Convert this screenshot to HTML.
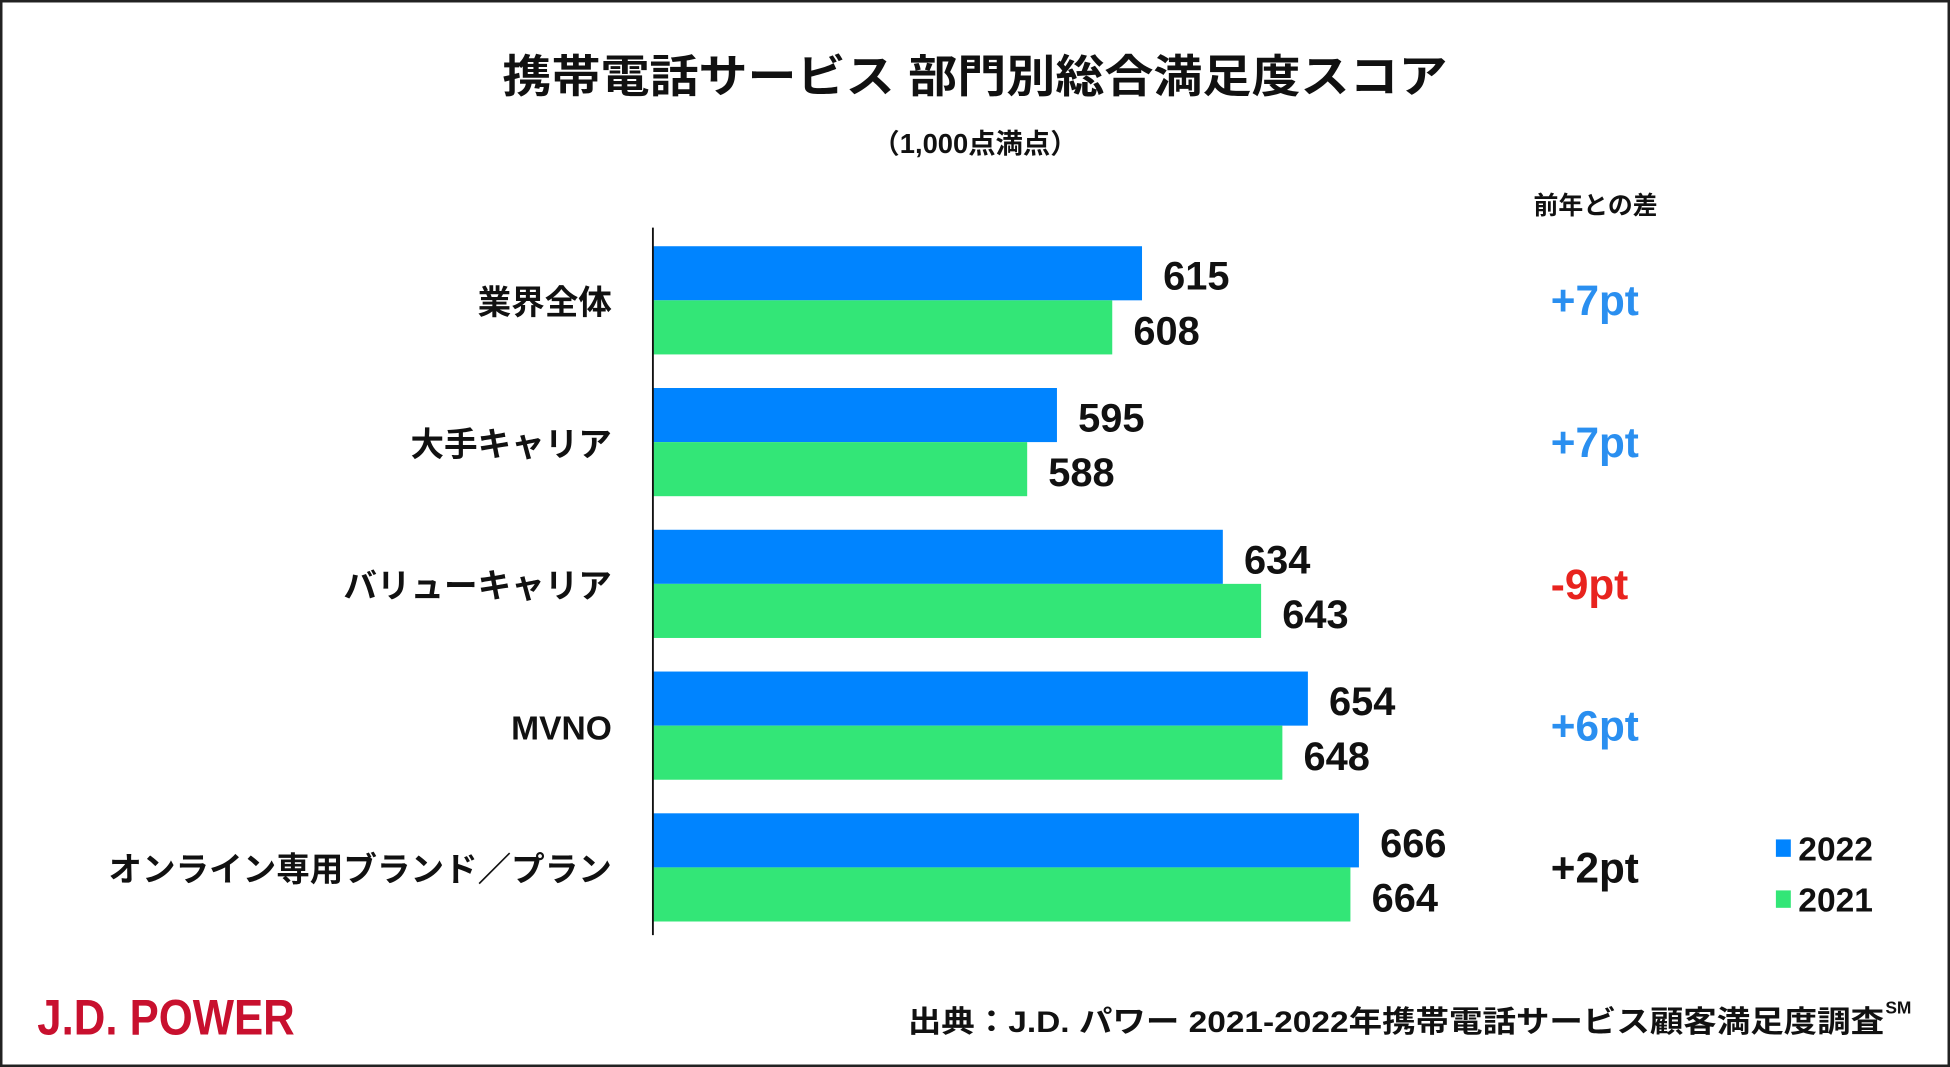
<!DOCTYPE html>
<html><head><meta charset="utf-8"><style>
html,body{margin:0;padding:0;background:#fff;}
svg{display:block;}
text{font-family:"Liberation Sans","Noto Sans CJK JP",sans-serif;font-weight:bold;}
</style></head><body>
<svg id="chart" width="1950" height="1067" viewBox="0 0 1568 858" preserveAspectRatio="none" xmlns="http://www.w3.org/2000/svg">
<rect x="1" y="1" width="1566" height="856" fill="#fff" stroke="#222" stroke-width="2"/>
<text x="784" y="74" text-anchor="middle" font-size="36" fill="#111" font-family="Noto Sans CJK JP, sans-serif" textLength="760" lengthAdjust="spacingAndGlyphs">携帯電話サービス 部門別総合満足度スコア</text>
<text x="784" y="123" text-anchor="middle" font-size="22" fill="#111">（1,000点満点）</text>
<text x="1283" y="172" text-anchor="middle" font-size="20" fill="#111">前年との差</text>
<g id="bars"></g>
<line x1="525" y1="183" x2="525" y2="752" stroke="#111" stroke-width="1.5"/>
<rect x="1428" y="675" width="12" height="14" fill="#0084ff"/>
<text x="1446" y="692" font-size="27" fill="#111">2022</text>
<rect x="1428" y="716" width="12" height="14" fill="#33e677"/>
<text x="1446" y="733" font-size="27" fill="#111">2021</text>
<text x="30" y="832" font-size="40" fill="#c8102e" textLength="207" lengthAdjust="spacingAndGlyphs">J.D. POWER</text>
<text x="730" y="830" font-size="24" fill="#111" textLength="785" lengthAdjust="spacingAndGlyphs">出典：J.D. パワー 2021-2022年携帯電話サービス顧客満足度調査</text>
<text x="1516" y="815" font-size="14" fill="#111">SM</text>
</svg>
<script>
const categories = ["業界全体","大手キャリア","バリューキャリア","MVNO","オンライン専用ブランド／プラン"];
const values2022 = [615,595,634,654,666];
const values2021 = [608,588,643,648,664];
const deltaLabels = ["+7pt","+7pt","-9pt","+6pt","+2pt"];
const deltaColors = ["#2a8ff0","#2a8ff0","#e8231e","#2a8ff0","#111"];
const NS = "http://www.w3.org/2000/svg";
const g = document.getElementById('bars');
const xMin = 500, x0 = 525;
function xs(v){ return x0 + (v - xMin) * 3.42; }
function ys(i){ return 198 + i * 114; }
const bh = 43.5;
function mk(tag, attrs){ const e=document.createElementNS(NS,tag); for(const k in attrs) e.setAttribute(k,attrs[k]); g.appendChild(e); return e; }
categories.forEach((c,i)=>{
  const y = ys(i);
  const b1 = mk('rect',{x:x0,y:y,width:xs(values2022[i])-x0,height:bh,fill:'#0084ff'});
  
  
  const b2 = mk('rect',{x:x0,y:y+bh,width:xs(values2021[i])-x0,height:bh,fill:'#33e677'});
  
  
  const l1 = mk('text',{x:xs(values2022[i])+17,y:y+35,'font-size':32,fill:'#111'});
  l1.textContent = values2022[i];
  
  
  const l2 = mk('text',{x:xs(values2021[i])+17,y:y+79,'font-size':32,fill:'#111'});
  l2.textContent = values2021[i];
  
  
  const cl = mk('text',{x:492,y:y+bh+11,'text-anchor':'end','font-size':27,fill:'#111','font-family':'Noto Sans CJK JP, sans-serif'});
  cl.textContent = c;
  
  
  const dl = mk('text',{x:1247,y:y+bh+12,'font-size':34,fill:deltaColors[i]});
  dl.textContent = deltaLabels[i];
  
  
});
</script>
</body></html>
